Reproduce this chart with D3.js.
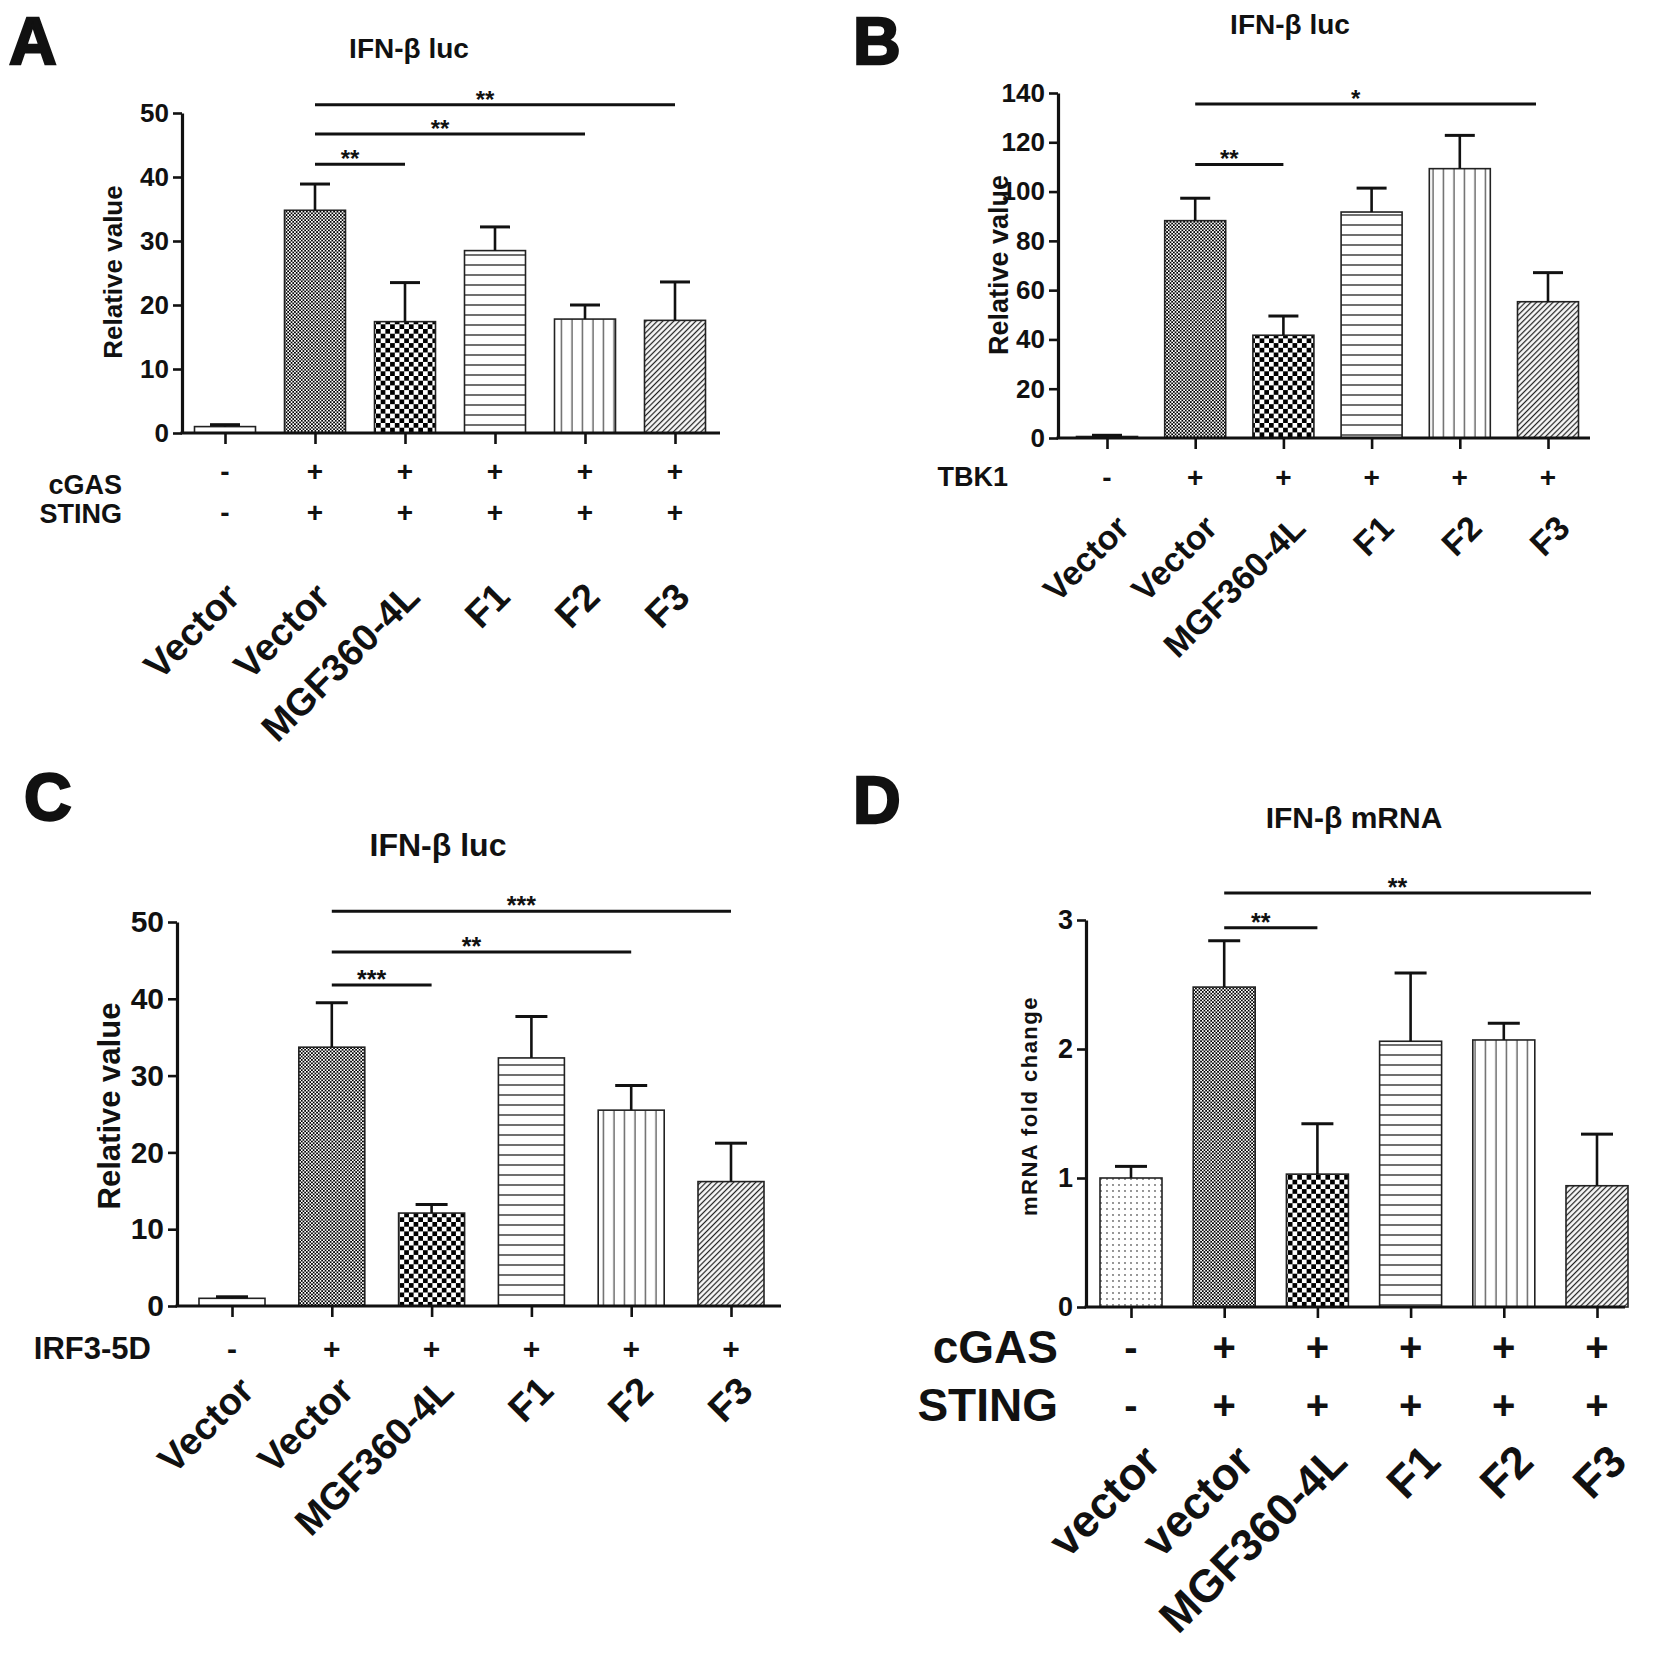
<!DOCTYPE html>
<html><head><meta charset="utf-8">
<script src="https://cdn.jsdelivr.net/npm/d3@7/dist/d3.min.js"></script>
<style>
body{margin:0;background:#fff;}
svg text{font-family:"Liberation Sans", Arial, Helvetica, sans-serif;font-weight:bold;fill:#111;}
</style></head><body>
<svg id="fig" width="1654" height="1664"></svg>
<script>
// ---------- DATA ----------
const categoriesLuc = ["Vector", "Vector", "MGF360-4L", "F1", "F2", "F3"];
const categoriesMrna = ["vector", "vector", "MGF360-4L", "F1", "F2", "F3"];

const meanA = [1.0, 34.8, 17.4, 28.5, 17.8, 17.6];
const errA  = [0.3, 4.1, 6.1, 3.7, 2.2, 6.0];
const meanB = [0.6, 88.2, 41.7, 91.7, 109.3, 55.3];
const errB  = [0.5, 9.1, 7.8, 9.7, 13.5, 11.8];
const meanC = [1.0, 33.7, 12.1, 32.3, 25.5, 16.2];
const errC  = [0.2, 5.8, 1.1, 5.4, 3.2, 5.0];
const meanD = [1.0, 2.48, 1.03, 2.06, 2.07, 0.94];
const errD  = [0.09, 0.36, 0.39, 0.53, 0.13, 0.40];

const ticksA = [0, 10, 20, 30, 40, 50];
const ticksB = [0, 20, 40, 60, 80, 100, 120, 140];
const ticksC = [0, 10, 20, 30, 40, 50];
const ticksD = [0, 1, 2, 3];

const rowsA = [{name: "cGAS", signs: ["-", "+", "+", "+", "+", "+"]},
               {name: "STING", signs: ["-", "+", "+", "+", "+", "+"]}];
const rowsB = [{name: "TBK1", signs: ["-", "+", "+", "+", "+", "+"]}];
const rowsC = [{name: "IRF3-5D", signs: ["-", "+", "+", "+", "+", "+"]}];
const rowsD = [{name: "cGAS", signs: ["-", "+", "+", "+", "+", "+"]},
               {name: "STING", signs: ["-", "+", "+", "+", "+", "+"]}];

const sigA = [{from: 1, to: 5, y: 51.3, label: "**"}, {from: 1, to: 4, y: 46.7, label: "**"}, {from: 1, to: 2, y: 42.0, label: "**"}];
const sigB = [{from: 1, to: 5, y: 135.5, label: "*"}, {from: 1, to: 2, y: 111, label: "**"}];
const sigC = [{from: 1, to: 5, y: 51.4, label: "***"}, {from: 1, to: 4, y: 46.1, label: "**"}, {from: 1, to: 2, y: 41.8, label: "***"}];
const sigD = [{from: 1, to: 5, y: 3.21, label: "**"}, {from: 1, to: 2, y: 2.94, label: "**"}];

// ---------- SETUP ----------
const svg = d3.select("#fig");
svg.append("rect").attr("width", 1654).attr("height", 1664).attr("fill", "#fff");
const defs = svg.append("defs");

function pat(id, w, h, transform) {
  const p = defs.append("pattern").attr("id", id).attr("patternUnits", "userSpaceOnUse")
    .attr("width", w).attr("height", h);
  if (transform) p.attr("patternTransform", transform);
  p.append("rect").attr("width", w).attr("height", h).attr("fill", "#fff");
  return p;
}
pat("p-open", 6, 6);
const pd = pat("p-dots", 6, 6);
pd.append("circle").attr("cx", 3).attr("cy", 3).attr("r", 0.9).attr("fill", "#666");
const pf = pat("p-fine", 3.4, 3.4);
pf.append("rect").attr("width", 1.7).attr("height", 1.7).attr("fill", "#000");
pf.append("rect").attr("x", 1.7).attr("y", 1.7).attr("width", 1.7).attr("height", 1.7).attr("fill", "#000");
const pc = pat("p-check", 9.4, 9.4);
pc.append("rect").attr("width", 4.7).attr("height", 4.7).attr("fill", "#000");
pc.append("rect").attr("x", 4.7).attr("y", 4.7).attr("width", 4.7).attr("height", 4.7).attr("fill", "#000");
const ph = pat("p-hlines", 10, 10);
ph.append("line").attr("x1", 0).attr("x2", 10).attr("y1", 5).attr("y2", 5).attr("stroke", "#222").attr("stroke-width", 1.3);
const pv = pat("p-vlines", 10.5, 10);
pv.append("line").attr("x1", 5).attr("x2", 5).attr("y1", 0).attr("y2", 10).attr("stroke", "#444").attr("stroke-width", 1.2);
const pg = pat("p-diag", 3.9, 10, "rotate(45)");
pg.append("line").attr("x1", 1.5).attr("x2", 1.5).attr("y1", 0).attr("y2", 10).attr("stroke", "#222").attr("stroke-width", 1.3);

const patternsLuc = ["p-open", "p-fine", "p-check", "p-hlines", "p-vlines", "p-diag"];
const patternsMrna = ["p-dots", "p-fine", "p-check", "p-hlines", "p-vlines", "p-diag"];

function drawPanel(cfg) {
  const g = svg.append("g");
  const n = cfg.cats.length;
  const x = d3.scalePoint().domain(d3.range(n)).range([cfg.firstC, cfg.lastC]);
  const y = d3.scaleLinear().domain([0, cfg.yMax]).range([cfg.y0, cfg.yTop]);

  // panel letter
  g.append("text").attr("x", cfg.letterX).attr("y", cfg.letterY).text(cfg.letter)
    .style("font-size", "66px").attr("stroke", "#111").attr("stroke-width", 2.4);
  // title
  g.append("text").attr("x", cfg.titleX).attr("y", cfg.titleY).attr("text-anchor", "middle")
    .style("font-size", cfg.titleSize + "px").text(cfg.title);

  // bars
  const data = cfg.means.map((m, i) => ({i, m, e: cfg.errs[i]}));
  g.selectAll("rect.bar").data(data).enter().append("rect").attr("class", "bar")
    .attr("x", d => x(d.i) - cfg.barW / 2).attr("width", cfg.barW)
    .attr("y", d => y(d.m)).attr("height", d => y(0) - y(d.m))
    .attr("fill", d => `url(#${cfg.patterns[d.i]})`)
    .attr("stroke", "#222").attr("stroke-width", 1.6);
  // error bars
  g.selectAll("line.err").data(data).enter().append("line")
    .attr("x1", d => x(d.i)).attr("x2", d => x(d.i))
    .attr("y1", d => y(d.m)).attr("y2", d => y(d.m + d.e))
    .attr("stroke", "#111").attr("stroke-width", 2.6);
  g.selectAll("line.cap").data(data).enter().append("line")
    .attr("x1", d => x(d.i) - cfg.capW / 2).attr("x2", d => x(d.i) + cfg.capW / 2)
    .attr("y1", d => y(d.m + d.e)).attr("y2", d => y(d.m + d.e))
    .attr("stroke", "#111").attr("stroke-width", 3);

  // y axis
  const ya = g.append("g").attr("transform", `translate(${cfg.axisX},0)`)
    .call(d3.axisLeft(y).tickValues(cfg.ticks).tickFormat(d3.format("d"))
      .tickSize(9).tickSizeOuter(0).tickPadding(4));
  ya.select(".domain").attr("stroke", "#111").attr("stroke-width", 3.2);
  ya.selectAll(".tick line").attr("stroke", "#111").attr("stroke-width", 2.6);
  ya.selectAll(".tick text").style("font-size", cfg.tickSize + "px").attr("fill", "#111");

  // x axis line + ticks
  g.append("line").attr("x1", cfg.axisX - 1.5).attr("x2", cfg.right).attr("y1", cfg.y0).attr("y2", cfg.y0)
    .attr("stroke", "#111").attr("stroke-width", 3.2);
  const xa = g.append("g").attr("transform", `translate(0,${cfg.y0})`)
    .call(d3.axisBottom(x).tickSize(11).tickSizeOuter(0).tickFormat(""));
  xa.select(".domain").remove();
  xa.selectAll(".tick line").attr("stroke", "#111").attr("stroke-width", 2.6);

  // y label
  g.append("text").attr("transform", `translate(${cfg.ylabX},${cfg.ylabY}) rotate(-90)`)
    .attr("text-anchor", "middle").attr("dominant-baseline", "central")
    .style("font-size", cfg.ylabSize + "px").style("letter-spacing", (cfg.ylabSpacing || 0) + "px")
    .text(cfg.ylab);

  // significance
  cfg.sig.forEach(s => {
    const xe = x(s.to) + (s.to === n - 1 ? (cfg.sigEndDx || 0) : 0);
    g.append("line").attr("x1", x(s.from)).attr("x2", xe).attr("y1", y(s.y)).attr("y2", y(s.y))
      .attr("stroke", "#111").attr("stroke-width", 3);
    g.append("text").attr("x", (x(s.from) + xe) / 2 - 10).attr("y", y(s.y) + 3)
      .attr("text-anchor", "middle").style("font-size", cfg.starSize + "px").text(s.label);
  });

  // treatment rows
  cfg.rows.forEach((r, ri) => {
    g.append("text").attr("x", cfg.rowLabX).attr("y", cfg.rowLabY[ri]).attr("text-anchor", "end")
      .attr("dominant-baseline", "central").style("font-size", cfg.rowLabSize + "px").text(r.name);
    r.signs.forEach((s, i) => {
      g.append("text").attr("x", x(i)).attr("y", cfg.rowY[ri]).attr("text-anchor", "middle")
        .attr("dominant-baseline", "central").style("font-size", cfg.signSize + "px").text(s);
    });
  });

  // rotated category labels
  cfg.cats.forEach((c, i) => {
    g.append("text").attr("transform", `translate(${x(i) + cfg.labDx},${cfg.labY}) rotate(-45)`)
      .attr("text-anchor", "end").style("font-size", cfg.labSize + "px").text(c);
  });
}

drawPanel({letter: "A", letterX: 9, letterY: 64, title: "IFN-β luc", titleX: 409, titleY: 58, titleSize: 28,
  cats: categoriesLuc, means: meanA, errs: errA, patterns: patternsLuc, ticks: ticksA, yMax: 50,
  axisX: 182, right: 720, y0: 433, yTop: 113, firstC: 225, lastC: 675, barW: 61, capW: 30,
  tickSize: 26, ylab: "Relative value", ylabX: 113, ylabY: 272, ylabSize: 26,
  sig: sigA, starSize: 24, rows: rowsA, rowLabX: 122, rowLabY: [485, 514], rowY: [471, 512],
  rowLabSize: 27, signSize: 28, labDx: 17, labY: 599, labSize: 38});

drawPanel({letter: "B", letterX: 853, letterY: 64, title: "IFN-β luc", titleX: 1290, titleY: 34, titleSize: 28,
  cats: categoriesLuc, means: meanB, errs: errB, patterns: patternsLuc, ticks: ticksB, yMax: 140,
  axisX: 1058, right: 1590, y0: 438, yTop: 93, firstC: 1107, lastC: 1548, barW: 61, capW: 30, sigEndDx: -12,
  tickSize: 26, ylab: "Relative value", ylabX: 999, ylabY: 265, ylabSize: 27,
  sig: sigB, starSize: 24, rows: rowsB, rowLabX: 1008, rowLabY: [477], rowY: [477],
  rowLabSize: 27, signSize: 28, labDx: 24, labY: 530, labSize: 34});

drawPanel({letter: "C", letterX: 24, letterY: 820, title: "IFN-β luc", titleX: 438, titleY: 856, titleSize: 32,
  cats: categoriesLuc, means: meanC, errs: errC, patterns: patternsLuc, ticks: ticksC, yMax: 50,
  axisX: 177, right: 781, y0: 1306, yTop: 922, firstC: 232, lastC: 731, barW: 66, capW: 32,
  tickSize: 30, ylab: "Relative value", ylabX: 109, ylabY: 1106, ylabSize: 31,
  sig: sigC, starSize: 25, rows: rowsC, rowLabX: 151, rowLabY: [1348], rowY: [1348],
  rowLabSize: 31, signSize: 30, labDx: 24, labY: 1393, labSize: 38});

drawPanel({letter: "D", letterX: 853, letterY: 823, title: "IFN-β mRNA", titleX: 1354, titleY: 828, titleSize: 30,
  cats: categoriesMrna, means: meanD, errs: errD, patterns: patternsMrna, ticks: ticksD, yMax: 3,
  axisX: 1086, right: 1625, y0: 1307, yTop: 920, firstC: 1131, lastC: 1597, barW: 62, capW: 32, sigEndDx: -6,
  tickSize: 27, ylab: "mRNA fold change", ylabX: 1029, ylabY: 1106, ylabSize: 22, ylabSpacing: 1.5,
  sig: sigD, starSize: 25, rows: rowsD, rowLabX: 1058, rowLabY: [1347, 1405], rowY: [1347, 1405],
  rowLabSize: 46, signSize: 40, labDx: 32, labY: 1464, labSize: 45});
</script>
</body></html>
